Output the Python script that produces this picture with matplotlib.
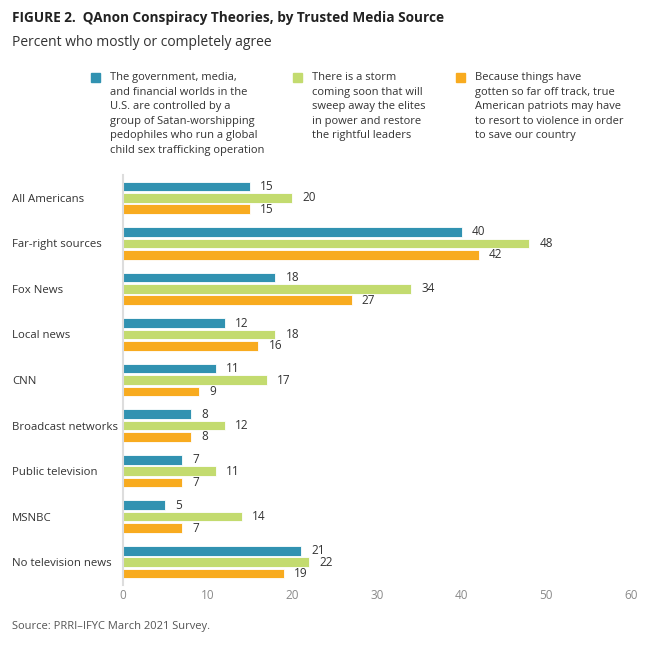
import matplotlib.pyplot as plt
from matplotlib.patches import Rectangle

plt.rcParams['font.family'] = ['Open Sans', 'DejaVu Sans']

categories = ['All Americans', 'Far-right sources', 'Fox News', 'Local news', 'CNN',
              'Broadcast networks', 'Public television', 'MSNBC', 'No television news']
satan = [15, 40, 18, 12, 11, 8, 7, 5, 21]
storm = [20, 48, 34, 18, 17, 12, 11, 14, 22]
violence = [15, 42, 27, 16, 9, 8, 7, 7, 19]
series_labels = [
    'The government, media,\nand financial worlds in the\nU.S. are controlled by a\ngroup of Satan-worshipping\npedophiles who run a global\nchild sex trafficking operation',
    'There is a storm\ncoming soon that will\nsweep away the elites\nin power and restore\nthe rightful leaders',
    'Because things have\ngotten so far off track, true\nAmerican patriots may have\nto resort to violence in order\nto save our country',
]
colors = ['#3192b1', '#c3db6f', '#f8ab1f']

W, H = 650, 647
fig = plt.figure(figsize=(6.5, 6.47), dpi=100)
ax = fig.add_axes([123 / W, 1 - 585 / H, 508 / W, 410 / H])

offsets = [-0.25, 0, 0.25]
for vals, off, c in zip([satan, storm, violence], offsets, colors):
    ys = [i + off for i in range(len(categories))]
    ax.barh(ys, vals, height=0.21, color=c, edgecolor='white', linewidth=0.6)
    for y, v in zip(ys, vals):
        ax.text(v + 1.2, y, str(v), va='center', ha='left', fontsize=8.5, color='#333333')

ax.set_xlim(0, 60)
ax.set_ylim(8.5, -0.5)
ax.set_xticks(range(0, 61, 10))
ax.set_yticks(range(len(categories)))
ax.set_yticklabels(categories, fontsize=8.2, color='#333333')
for lbl in ax.get_yticklabels():
    lbl.set_horizontalalignment('left')
ax.tick_params(axis='y', length=0, pad=80)
ax.tick_params(axis='x', length=0, pad=3, labelsize=8.5, labelcolor='#8a8a8a')
for s in ['top', 'right', 'bottom']:
    ax.spines[s].set_visible(False)
ax.spines['left'].set_color('#dddddd')
ax.spines['left'].set_linewidth(1.5)

fig.text(12 / W, 1 - 18 / H, 'FIGURE 2.  QAnon Conspiracy Theories, by Trusted Media Source',
         fontsize=9.8, fontweight='bold', color='#222222', va='center')
fig.text(12 / W, 1 - 42 / H, 'Percent who mostly or completely agree',
         fontsize=10, color='#333333', va='center')

sq_x = [91, 293, 456]
for x, lab, c in zip(sq_x, series_labels, colors):
    fig.patches.append(Rectangle((x / W, 1 - 82 / H), 9 / W, 9 / H, color=c,
                                 transform=fig.transFigure, figure=fig))
    fig.text((x + 19) / W, 1 - 72 / H, lab, fontsize=8.0, color='#333333',
             va='top', ha='left', linespacing=1.45)

fig.text(12 / W, 1 - 626 / H, 'Source: PRRI\u2013IFYC March 2021 Survey.',
         fontsize=8, color='#555555', va='center')

fig.savefig('out.png', dpi=100)
